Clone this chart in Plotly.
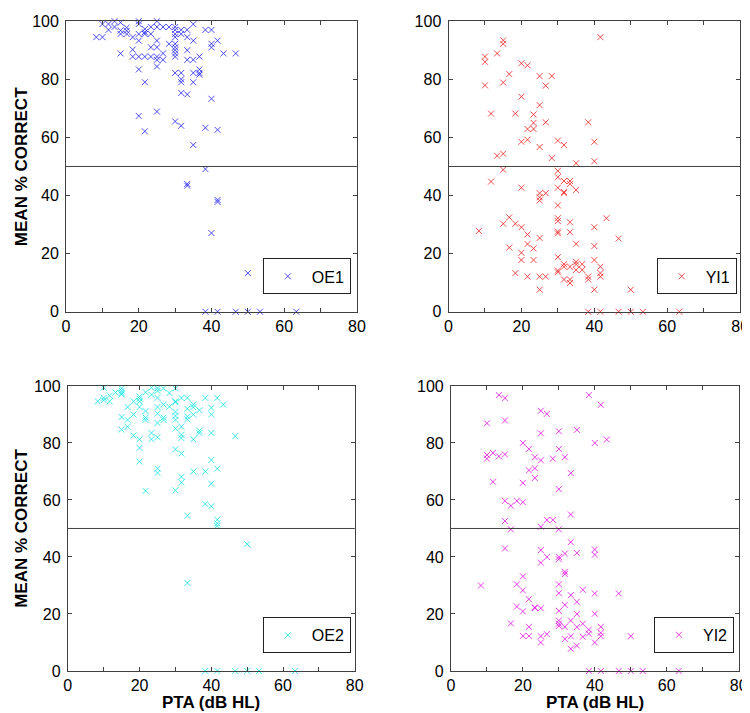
import plotly.graph_objects as go

W, H = 750, 713

# ---------------- data (PTA in dB HL, mean % correct) ----------------
oe1_pta = [10, 11.67, 13.33, 15, 20, 20, 25, 35,
           11.67, 13.33, 15, 16.67, 16.67, 21.67, 21.67, 23.33, 25, 26.67, 28.33, 30, 30, 31.67, 33.33, 30, 31.67, 38.33, 40,
           15, 16.67, 18.33, 20, 21.67, 23.33, 8.33, 10, 33.33, 30,
           20, 25, 35, 41.67, 30, 28.33, 40, 40, 23.33, 25, 30, 18.33, 33.33, 30, 30, 30, 15, 26.67, 43.33, 46.67,
           18.33, 20, 21.67, 23.33, 25,
           26.67, 25, 33.33, 35, 36.67, 25, 20, 36.67, 36.67, 36.67, 30, 31.67, 35, 31.67, 31.67, 35, 21.67,
           31.67, 33.33, 40, 25, 20, 30, 31.67, 38.33, 41.67, 21.67, 35, 38.33, 33.33, 33.33, 41.67, 41.67, 40, 50,
           38.33, 41.67, 46.67, 50, 53.33, 63.33]
oe1_score = [99, 99, 100, 99.5, 100, 99, 100, 99,
             97, 98, 96.8, 97.8, 96.7, 97.3, 96.2, 98, 98, 98, 98, 98, 97, 97, 97, 95.6, 95.6, 97, 97,
             95.6, 95.6, 94.5, 95.6, 95.6, 95.6, 94.5, 94.5, 94.5, 94.5,
             93.3, 93.3, 93.3, 93.3, 92.2, 92.2, 92.2, 91, 91, 91, 91, 90.2, 90, 90, 88.9, 87.8, 88.9, 88.9, 88.9, 88.9,
             87.8, 87.8, 87.8, 87.8, 87.8,
             86.7, 86.7, 86.7, 86.7, 87.8, 84.4, 83.4, 83.4, 82.2, 81.6, 82.2, 82.2, 82.2, 80, 79, 79, 79,
             75.3, 74.8, 73.3, 68.9, 67.4, 65.5, 64, 63.3, 62.6, 62.1, 57.4, 49.1, 44, 43.4, 38.5, 37.8, 27.1, 13.3,
             0, 0, 0, 0, 0, 0]

yi1_pta = [10, 10, 10, 8.33, 11.67, 11.67, 13.33, 13.33, 15, 15, 15, 15, 15, 15, 16.67, 16.67, 16.67,
           18.33, 18.33, 18.33, 20, 20, 20, 20, 20, 20, 20, 21.67, 21.67, 21.67, 21.67, 21.67, 21.67,
           23.33, 23.33, 23.33, 23.33, 23.33, 25, 25, 25, 25, 25, 25, 25, 25, 25, 26.67, 26.67, 26.67, 26.67,
           28.33, 28.33, 30, 30, 30, 30, 30, 30, 30, 30, 30, 30, 30, 30,
           31.67, 31.67, 31.67, 31.67, 31.67, 31.67, 31.67, 33.33, 33.33, 33.33, 33.33, 33.33, 33.33, 33.33,
           35, 35, 35, 35, 35, 35, 36.67, 36.67, 38.33, 38.33, 38.33, 40, 40, 40, 40, 40, 40,
           41.67, 41.67, 41.67, 41.67, 43.33, 46.67, 50,
           38.33, 41.67, 46.67, 50, 53.33, 63.33]
yi1_score = [87.8, 86, 77.9, 27.8, 68.2, 44.8, 88.9, 53.7, 93.4, 92.2, 78.9, 54.4, 48.9, 30.3, 81.8, 32.5, 22.1,
             68.2, 30.3, 13.3, 85.5, 74, 58.5, 42.7, 29.1, 20.3, 17.8, 84.8, 62.9, 59.2, 26.6, 23.3, 12.1,
             67.9, 65, 62.9, 21.8, 17.8, 81.1, 71.1, 56.7, 40.8, 39.4, 38.3, 25.4, 12.1, 7.6, 77.8, 65.2, 40.8, 12.1,
             81.1, 52.9, 58.9, 48.5, 46.3, 42.7, 36.6, 32.2, 31.2, 27.6, 27, 18.8, 14.2, 13.6,
             57.4, 45, 41.2, 40.8, 16.4, 15.5, 11.1, 45, 44, 30.8, 27.4, 15.5, 11.1, 9.9,
             51.1, 41.9, 23.4, 17.2, 16.3, 14.4, 16.4, 14.4, 65.2, 12.1, 11.1, 58.5, 51.8, 29.1, 22.6, 17.8, 7.6,
             94.5, 15.5, 13.3, 12.1, 32.2, 25.2, 7.6,
             0, 0, 0, 0, 0, 0]

oe2_pta = [8.33, 10, 10, 10, 11.67, 11.67, 13.33, 15, 15, 15, 15, 15, 15, 16.67, 16.67, 16.67,
           18.33, 18.33, 18.33, 20, 20, 20, 20, 20, 20, 20, 21.67, 21.67, 21.67, 21.67, 21.67,
           23.33, 23.33, 23.33, 23.33, 25, 25, 25, 25, 25, 25, 25, 25, 25, 26.67, 26.67, 26.67, 26.67,
           28.33, 28.33, 30, 30, 30, 30, 30, 30, 30, 30, 30,
           31.67, 31.67, 31.67, 31.67, 31.67, 31.67, 31.67, 33.33, 33.33, 33.33, 33.33, 33.33, 33.33,
           35, 35, 35, 35, 35, 36.67, 36.67, 36.67, 38.33, 38.33, 38.33, 40, 40, 40, 40, 40, 40,
           41.67, 41.67, 41.67, 41.67, 41.67, 43.33, 46.67, 50,
           38.33, 41.67, 46.67, 50, 53.33, 63.33]
oe2_score = [94.6, 99.4, 95.8, 95, 96.6, 94.6, 97.7, 99.2, 98.3, 97.5, 97, 89.1, 84.7, 92.6, 88.1, 85.7,
             94.6, 90, 82.6, 96.3, 95.5, 94.6, 92.6, 81.3, 78.3, 73.5, 97.8, 91.2, 88.9, 88.1, 63.2,
             99.4, 96.9, 83.5, 81.3, 99.2, 98.3, 95.8, 92.6, 90.3, 87, 82, 71, 69.5, 99.2, 93.5, 88.9, 88.1,
             97.5, 92.7, 99.2, 94.6, 94.3, 90.9, 89.5, 88.1, 85.1, 77.8, 63.4,
             95.8, 85.7, 82.9, 81.7, 76.3, 68.1, 66.1, 95.8, 92, 89.3, 88.3, 54.5, 30.9,
             93.5, 92.6, 90, 81.3, 70, 91.5, 84.3, 83.5, 95.8, 70, 58.6, 92.3, 90, 83.5, 74, 65.7, 57.8,
             95.8, 71, 53.1, 51.8, 50.9, 93.5, 82.4, 44.5,
             0, 0, 0, 0, 0, 0]

yi2_pta = [8.33, 10, 10, 10, 11.67, 11.67, 13.33, 13.33, 15, 15, 15, 15, 15, 15, 16.67, 16.67, 16.67,
           18.33, 18.33, 18.33, 20, 20, 20, 20, 20, 20, 20, 21.67, 21.67, 21.67, 21.67, 21.67,
           23.33, 23.33, 23.33, 23.33, 23.33, 25, 25, 25, 25, 25, 25, 25, 25, 25, 26.67, 26.67, 26.67, 26.67,
           28.33, 28.33, 30, 30, 30, 30, 30, 30, 30, 30, 30, 30, 30, 30,
           31.67, 31.67, 31.67, 31.67, 31.67, 31.67, 31.67, 33.33, 33.33, 33.33, 33.33, 33.33, 33.33, 33.33,
           35, 35, 35, 35, 35, 35, 36.67, 36.67, 36.67, 38.33, 38.33, 38.33, 40, 40, 40, 40, 40, 40,
           41.67, 41.67, 41.67, 41.67, 43.33, 46.67, 50,
           38.33, 41.67, 46.67, 50, 53.33, 63.33]
yi2_score = [30, 86.9, 75.8, 74.5, 76.5, 66.4, 96.8, 75.3, 95.7, 87.9, 76, 59.7, 52.6, 43, 58, 49.7, 16.7,
             59.7, 30.4, 22.6, 80, 66, 59.2, 33.2, 28.3, 20.9, 12.3, 77.9, 70.4, 25.2, 15.5, 12.3,
             75, 71.1, 67.7, 22.3, 22.1, 91.3, 83.4, 73.9, 50.6, 42.4, 38, 22, 12.2, 10, 90.2, 53, 40, 12.9,
             74.5, 53, 84.1, 77.9, 63.8, 49.7, 40, 39.2, 30.4, 27.3, 21.1, 17.7, 16.6, 15.8,
             75, 41.2, 34.8, 34, 23.2, 15.5, 11.2, 69.4, 54.9, 45.2, 26.6, 17.7, 12.2, 7.8,
             84.6, 41.4, 24.3, 20, 15.4, 8.9, 28.5, 16.6, 12, 96.8, 14.5, 13.1, 80, 42.6, 40.8, 27.2, 20.1, 10,
             93.4, 15.5, 13.4, 12.2, 81.2, 27.2, 12.2,
             0, 0, 0, 0, 0, 0]

series_names = ["OE1", "YI1", "OE2", "YI2"]
x_ticks = [0, 10, 20, 30, 40, 50, 60, 70, 80]
x_ticktext = ["0", "", "20", "", "40", "", "60", "", "80"]
y_ticks = [0, 20, 40, 60, 80, 100]
reference_level = 50

# ---------------- layout geometry (pixels) ----------------
def px_x(p):
    return p / W

def px_y(p):
    return 1 - p / H

panels = [
    dict(name=series_names[0], x=oe1_pta, y=oe1_score, color="rgba(20,20,240,0.75)",
         dom_x=(55, 351), dom_y=(5.3, 303), leg=(255.3, 248.3)),
    dict(name=series_names[1], x=yi1_pta, y=yi1_score, color="rgba(235,20,20,0.75)",
         dom_x=(444.2, 741), dom_y=(5.3, 303), leg=(656, 248.3)),
    dict(name=series_names[2], x=oe2_pta, y=oe2_score, color="rgba(0,225,225,0.75)",
         dom_x=(56.8, 348.8), dom_y=(379, 671), leg=(255.3, 616)),
    dict(name=series_names[3], x=yi2_pta, y=yi2_score, color="rgba(225,0,225,0.75)",
         dom_x=(446.7, 739.5), dom_y=(379, 671), leg=(653.3, 615.5)),
]

fig = go.Figure()
axis_col = "#404040"
tick_font = dict(family="Liberation Sans, Arial, sans-serif", size=16, color="black")

layout = dict(
    width=W, height=H, margin=dict(l=0, r=0, t=0, b=0),
    paper_bgcolor="white", plot_bgcolor="white", showlegend=True,
)

shapes = []
for i, p in enumerate(panels):
    k = "" if i == 0 else str(i + 1)
    leg = "legend" if i == 0 else f"legend{i + 1}"
    fig.add_trace(go.Scatter(
        x=p["x"], y=p["y"], mode="markers", name=p["name"],
        marker=dict(symbol="x-thin", size=6, line=dict(width=1, color=p["color"])),
        xaxis="x" + k, yaxis="y" + k, legend=leg, cliponaxis=False,
    ))
    layout["xaxis" + k] = dict(
        domain=[px_x(p["dom_x"][0]), px_x(p["dom_x"][1])], anchor="y" + k,
        range=[0, 80], tickmode="array", tickvals=x_ticks, ticktext=x_ticktext,
        ticks="inside", ticklen=4, tickcolor=axis_col, mirror="allticks",
        showline=True, linecolor=axis_col, linewidth=1, showgrid=False, zeroline=False,
        tickfont=tick_font, fixedrange=True,
    )
    layout["yaxis" + k] = dict(
        domain=[px_y(p["dom_y"][1]), px_y(p["dom_y"][0])], anchor="x" + k,
        range=[0, 100], tickmode="array", tickvals=y_ticks,
        ticks="inside", ticklen=4, tickcolor=axis_col, mirror="allticks",
        showline=True, linecolor=axis_col, linewidth=1, showgrid=False, zeroline=False,
        tickfont=tick_font, fixedrange=True, ticklabelstandoff=3,
    )
    shapes.append(dict(type="line", xref=f"x{k} domain", yref="y" + k,
                       x0=0, x1=1, y0=reference_level, y1=reference_level,
                       line=dict(color=axis_col, width=1)))
    layout[leg] = dict(
        x=px_x(p["leg"][0]), y=px_y(p["leg"][1]), xanchor="left", yanchor="top",
        bgcolor="white", bordercolor="#222222", borderwidth=1, itemwidth=38,
        font=dict(family="Liberation Sans, Arial, sans-serif", size=16, color="black"),
    )

title_font = dict(family="Liberation Sans, Arial, sans-serif", size=17, color="black")
annotations = [
    dict(text="<b>MEAN % CORRECT</b>", xref="paper", yref="paper", x=px_x(9.5), y=px_y(154.5),
         textangle=-90, showarrow=False, font=title_font, xanchor="center", yanchor="middle"),
    dict(text="<b>MEAN % CORRECT</b>", xref="paper", yref="paper", x=px_x(9.5), y=px_y(525),
         textangle=-90, showarrow=False, font=title_font, xanchor="center", yanchor="middle"),
    dict(text="<b>PTA (dB HL)</b>", xref="paper", yref="paper", x=px_x(202.5), y=px_y(703.5),
         showarrow=False, font=title_font, xanchor="center", yanchor="middle", borderpad=0),
    dict(text="<b>PTA (dB HL)</b>", xref="paper", yref="paper", x=px_x(593), y=px_y(703.5),
         showarrow=False, font=title_font, xanchor="center", yanchor="middle", borderpad=0),
]
layout["shapes"] = shapes
layout["annotations"] = annotations
fig.update_layout(**layout)

fig.write_html("out.html")
